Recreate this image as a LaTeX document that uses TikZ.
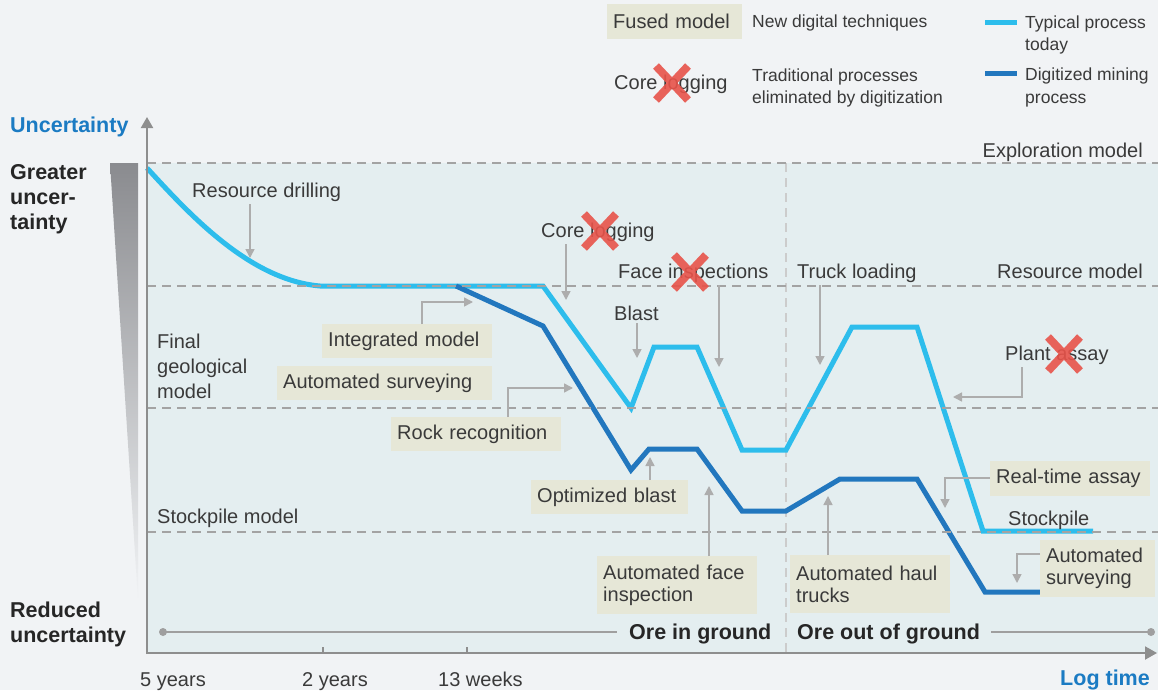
\documentclass[tikz,border=0pt]{standalone}
\usepackage{fontspec}
\setmainfont{Liberation Sans}
\usetikzlibrary{arrows.meta,calc}
\definecolor{bg}{HTML}{F1F3F5}
\definecolor{plotbg}{HTML}{E4EEF0}
\definecolor{typc}{HTML}{2DBDEC}
\definecolor{digc}{HTML}{2277BE}
\definecolor{beige}{HTML}{E6E7D7}
\definecolor{dashc}{HTML}{A3A3A3}
\definecolor{txt}{HTML}{3A3A3A}
\definecolor{bluelab}{HTML}{1B7BC3}
\definecolor{redc}{HTML}{E8534A}
\definecolor{anng}{HTML}{ADADAD}
\definecolor{axisc}{HTML}{8E8E8E}
\definecolor{wedgetop}{HTML}{8A8B8F}
\begin{document}
\begin{tikzpicture}[x=1pt,y=-1pt,
  lab/.style={font=\fontsize{20}{22}\selectfont, text=txt, inner sep=0pt},
  lab25/.style={font=\fontsize{20}{25}\selectfont, text=txt, inner sep=0pt, align=left},
  leg/.style={font=\fontsize{17.5}{22}\selectfont, text=txt, inner sep=0pt, align=left},
  bld/.style={font=\bfseries\fontsize{21.5}{25}\selectfont, text=black!85, inner sep=0pt, align=left},
  fbox/.style={fill=beige, font=\fontsize{20}{22}\selectfont, text=txt, inner xsep=6pt, inner ysep=0pt, anchor=north west, align=left, minimum height=34pt},
  ann/.style={draw=anng, line width=1.5pt, -{Triangle[length=9pt,width=9pt]}},
  annt/.style={ann, shorten <=3pt},
  guide/.style={draw=dashc, line width=1.5pt, dash pattern=on 9pt off 6pt},
  vguide/.style={draw=dashc!55, line width=1.3pt, dash pattern=on 9pt off 6pt},
  typ/.style={draw=typc, line width=5pt},
  dig/.style={draw=digc, line width=5pt},
  axisline/.style={draw=axisc, line width=2pt},
  oreline/.style={draw=axisc!85, line width=2pt},
  redcross/.pic={\draw[draw=redc, line width=8pt, opacity=.9] (-16,-17) -- (16,17) (-16,17) -- (16,-17);},
]
% background
\fill[bg] (0,0) rectangle (1158,690);
\useasboundingbox (0,0) rectangle (1158,690);
\fill[plotbg] (147,163) rectangle (1158,653);
\shade[top color=wedgetop, bottom color=bg] (110,163) -- (138,163) -- (138,600) -- cycle;

% vertical separator
\draw[vguide] (786,163) -- (786,653);

% curves
\draw[typ] (147,168) .. controls (190,215) and (250,280) .. (320,286) -- (543,286) -- (631,408) -- (654,347) -- (697,347) -- (742,450) -- (786,450) -- (852,327) -- (917,327) -- (983,531) -- (1093,531);
\draw[dig] (456,286) -- (543,326) -- (631,470) -- (649,449) -- (697,449) -- (742,511) -- (786,511) -- (840,479) -- (917,479) -- (985,592) -- (1040,592);

% guides
\draw[guide] (147,163) -- (1158,163);
\draw[guide] (147,286) -- (1158,286);
\draw[guide] (147,408) -- (1158,408);
\draw[guide] (147,532) -- (1158,532);

% axes
\draw[axisline, -{Triangle[length=11pt,width=12pt]}] (147,654) -- (147,117);
\draw[axisline, -{Triangle[length=12pt,width=13pt]}] (146,653) -- (1157,653);
\draw[axisc, line width=1.5pt] (323,647) -- (323,653) (467,647) -- (467,653);

% axis labels
\node[bld, text=bluelab, anchor=base west] (unc) at (10,132) {Uncertainty};
\node[bld, anchor=base west] (gu) at (10,229) {Greater\\uncer-\\tainty};
\node[bld, anchor=base west] (ru) at (10,642) {Reduced\\uncertainty};
\node[bld, text=bluelab, anchor=base east] (lt) at (1150,685) {Log time};
\node[lab, anchor=base west] (y5) at (140,686) {5 years};
\node[lab, anchor=base west] (y2) at (302,686) {2 years};
\node[lab, anchor=base west] (w13) at (438,686) {13 weeks};

% ore line
\node[bld, anchor=base west] (oig) at (629,639) {Ore in ground};
\node[bld, anchor=base west] (oog) at (797,639) {Ore out of ground};
\coordinate (dotL) at (163,632);
\coordinate (dotR) at (1151,632);
\draw[oreline] (dotL) -- ([xshift=-12pt]oig.west |- dotL);
\draw[oreline] ([xshift=11pt]oog.east |- dotR) -- (dotR);
\fill[axisc!85] (dotL) circle (4) (dotR) circle (4);

% model labels
\node[lab, anchor=base east] (eml) at (1143,157) {Exploration model};
\node[lab, anchor=base east] (rml) at (1143,278) {Resource model};
\node[lab25, anchor=base west] (fgm) at (157,398) {Final\\geological\\model};
\node[lab, anchor=base west] (spm) at (157,523) {Stockpile model};
\node[lab, anchor=base west] (spl) at (1008,525) {Stockpile};

% process labels
\node[lab, anchor=base west] (rdl) at (192,197) {Resource drilling};
\node[lab, anchor=base west] (cll) at (541,237) {Core logging};
\node[lab, anchor=base west] (fil) at (618,278) {Face inspections};
\node[lab, anchor=base west] (bll) at (614,320) {Blast};
\node[lab, anchor=base west] (tll) at (797,278) {Truck loading};
\node[lab, anchor=base west] (pal) at (1005,360) {Plant assay};

\coordinate (rdT) at (250,258);
\coordinate (clT) at (566,300);
\coordinate (fiT) at (719,367);
\coordinate (blT) at (637,358);
\coordinate (tlT) at (820,365);
\coordinate (paV) at (1022,397);
\coordinate (paT) at (953,397);
\draw[annt] (rdl.south -| rdT) -- (rdT);
\draw[annt] (cll.south -| clT) -- (clT);
\draw[annt] (fil.south -| fiT) -- (fiT);
\draw[annt] (bll.south -| blT) -- (blT);
\draw[annt] (tll.south -| tlT) -- (tlT);
\draw[annt] (pal.south -| paV) -- (paV) -- (paT);

% digital technique boxes
\node[fbox, text width=158pt] (im) at (322,324) {Integrated model};
\node[fbox, text width=203pt] (asl) at (277,366) {Automated surveying};
\node[fbox, text width=158pt] (rr) at (391,417) {Rock recognition};
\node[fbox, text width=145pt] (ob) at (531,480) {Optimized blast};
\node[fbox, text width=148pt, minimum height=58pt] (afi) at (597,556) {Automated face\\inspection};
\node[fbox, text width=148pt, minimum height=58pt] (aht) at (790,555) {Automated haul\\trucks};
\node[fbox, text width=148pt, minimum height=35pt] (rta) at (990,461) {Real-time assay};
\node[fbox, text width=103pt, minimum height=57pt] (asr) at (1040,540) {Automated\\surveying};

\coordinate (imV) at (422,302);
\coordinate (imT) at (473,302);
\coordinate (rrV) at (508,388);
\coordinate (rrT) at (573,388);
\coordinate (obT) at (650,457);
\coordinate (afiT) at (709,486);
\coordinate (ahtT) at (828,496);
\coordinate (rtaV) at (945,478);
\coordinate (rtaT) at (945,508);
\coordinate (asrV) at (1017,554);
\coordinate (asrT) at (1017,583);
\draw[ann] (im.north -| imV) -- (imV) -- (imT);
\draw[ann] (rr.north -| rrV) -- (rrV) -- (rrT);
\draw[ann] (ob.north -| obT) -- (obT);
\draw[ann] (afi.north -| afiT) -- (afiT);
\draw[ann] (aht.north -| ahtT) -- (ahtT);
\draw[ann] (rta.west |- rtaV) -- (rtaV) -- (rtaT);
\draw[ann] (asr.west |- asrV) -- (asrV) -- (asrT);

% legend
\node[fbox, text width=123pt, minimum height=35pt] (fm) at (607,4) {Fused model};
\node[leg, anchor=base west] (ndt) at (752,28) {New digital techniques};
\node[lab, anchor=base west] (lcl) at (614,90) {Core logging};
\node[leg, anchor=base west] (tpe) at (752,104) {Traditional processes\\eliminated by digitization};
\node[leg, anchor=base west] (tpt) at (1025,51) {Typical process\\today};
\node[leg, anchor=base west] (dmp) at (1025,103) {Digitized mining\\process};
\draw[typ] (985,23) -- (1017,23);
\draw[dig] (985,74) -- (1017,74);

% eliminated crosses
\pic at (672,83) {redcross};
\pic at (600,231) {redcross};
\pic at (690,272) {redcross};
\pic at (1064,354) {redcross};
\end{tikzpicture}
\end{document}
